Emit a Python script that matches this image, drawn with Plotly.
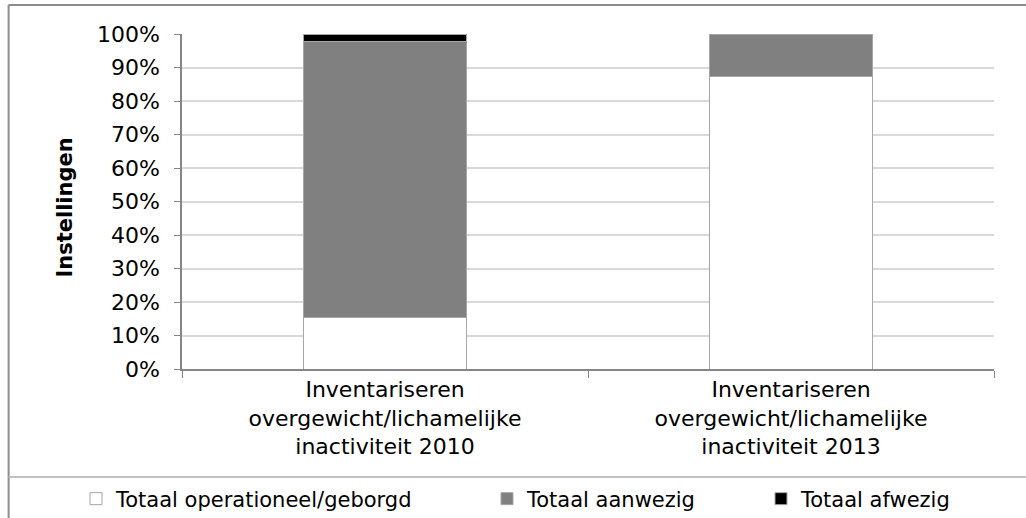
import plotly.graph_objects as go

# data (percent of institutions)
categories = [
    "Inventariseren<br>overgewicht/lichamelijke<br>inactiviteit 2010",
    "Inventariseren<br>overgewicht/lichamelijke<br>inactiviteit 2013",
]
series_names = ["Totaal operationeel/geborgd", "Totaal aanwezig", "Totaal afwezig"]
operationeel = [15.3, 87.2]
aanwezig = [82.6, 12.8]
afwezig = [2.1, 0.0]
y_ticks = list(range(0, 101, 10))
y_labels = [f"{v}%" for v in y_ticks]

FONT = "Verdana, DejaVu Sans, sans-serif"
W, H = 1026, 518

# plot area in pixels, used to place the frame and title
PL, PR, PT, PB = 181.5, 994, 34, 369


def px_x(x):
    return (x - PL) / (PR - PL)


def px_y(y):
    return (PB - y) / (PB - PT)


fig = go.Figure()
colors = ["#ffffff", "#808080", "#000000"]
legends = ["legend", "legend2", "legend3"]
for name, vals, col, lg in zip(series_names, [operationeel, aanwezig, afwezig], colors, legends):
    fig.add_trace(go.Bar(
        x=categories, y=vals, name=name, legend=lg,
        marker=dict(color=col, line=dict(color="#a6a6a6", width=1)),
        hovertemplate="%{y}%<extra>" + name + "</extra>",
    ))

# legends placed in container coordinates so they don't push the margins
legend_style = dict(orientation="h", yanchor="middle", xanchor="left",
                    xref="container", yref="container",
                    font=dict(family=FONT, size=21, color="#000"),
                    bgcolor="rgba(0,0,0,0)", itemwidth=30)
legend_left = [76, 487, 761]
legend_y = 1 - 499 / H

fig.update_layout(
    barmode="stack",
    bargap=0.6,
    width=W, height=H,
    margin=dict(l=PL, r=W - PR, t=PT, b=H - PB, pad=0),
    paper_bgcolor="white", plot_bgcolor="white",
    font=dict(family=FONT, size=21, color="#000"),
    showlegend=True,
    legend=dict(x=legend_left[0] / W, y=legend_y, **legend_style),
    legend2=dict(x=legend_left[1] / W, y=legend_y, **legend_style),
    legend3=dict(x=legend_left[2] / W, y=legend_y, **legend_style),
    xaxis=dict(
        showline=True, linecolor="#868686", linewidth=1.5,
        ticks="outside", tickson="boundaries", ticklen=7, tickcolor="#868686",
        tickfont=dict(family=FONT, size=22, color="#000"),
        showgrid=False,
    ),
    yaxis=dict(
        range=[0, 100], tickvals=y_ticks, ticktext=y_labels,
        showline=True, linecolor="#868686", linewidth=1.5,
        ticks="outside", ticklen=6, tickcolor="#868686",
        ticklabelstandoff=10,
        gridcolor="#d9d9d9", gridwidth=1.5,
        tickfont=dict(family=FONT, size=22, color="#000"),
        zeroline=False,
    ),
    annotations=[dict(
        text="<b>Instellingen</b>", textangle=-90,
        xref="paper", yref="paper", x=px_x(64), y=px_y(208),
        xanchor="center", yanchor="middle", showarrow=False,
        font=dict(family=FONT, size=21, color="#000"),
    )],
    shapes=[
        # outer chart frame (cropped at right and bottom)
        dict(type="line", xref="paper", yref="paper",
             x0=px_x(8), x1=px_x(1030), y0=px_y(5), y1=px_y(5),
             line=dict(color="#8c8c8c", width=2)),
        dict(type="line", xref="paper", yref="paper",
             x0=px_x(8), x1=px_x(8), y0=px_y(5), y1=px_y(522),
             line=dict(color="#8c8c8c", width=2)),
        # separator above legend
        dict(type="line", xref="paper", yref="paper",
             x0=px_x(8), x1=px_x(1030), y0=px_y(477), y1=px_y(477),
             line=dict(color="#c0c0c0", width=2)),
    ],
)

# drop the default body margin so the figure sits at the window's top-left corner
fig.write_html("out.html", config={"displayModeBar": False},
               post_script="document.body.style.margin='0';")
